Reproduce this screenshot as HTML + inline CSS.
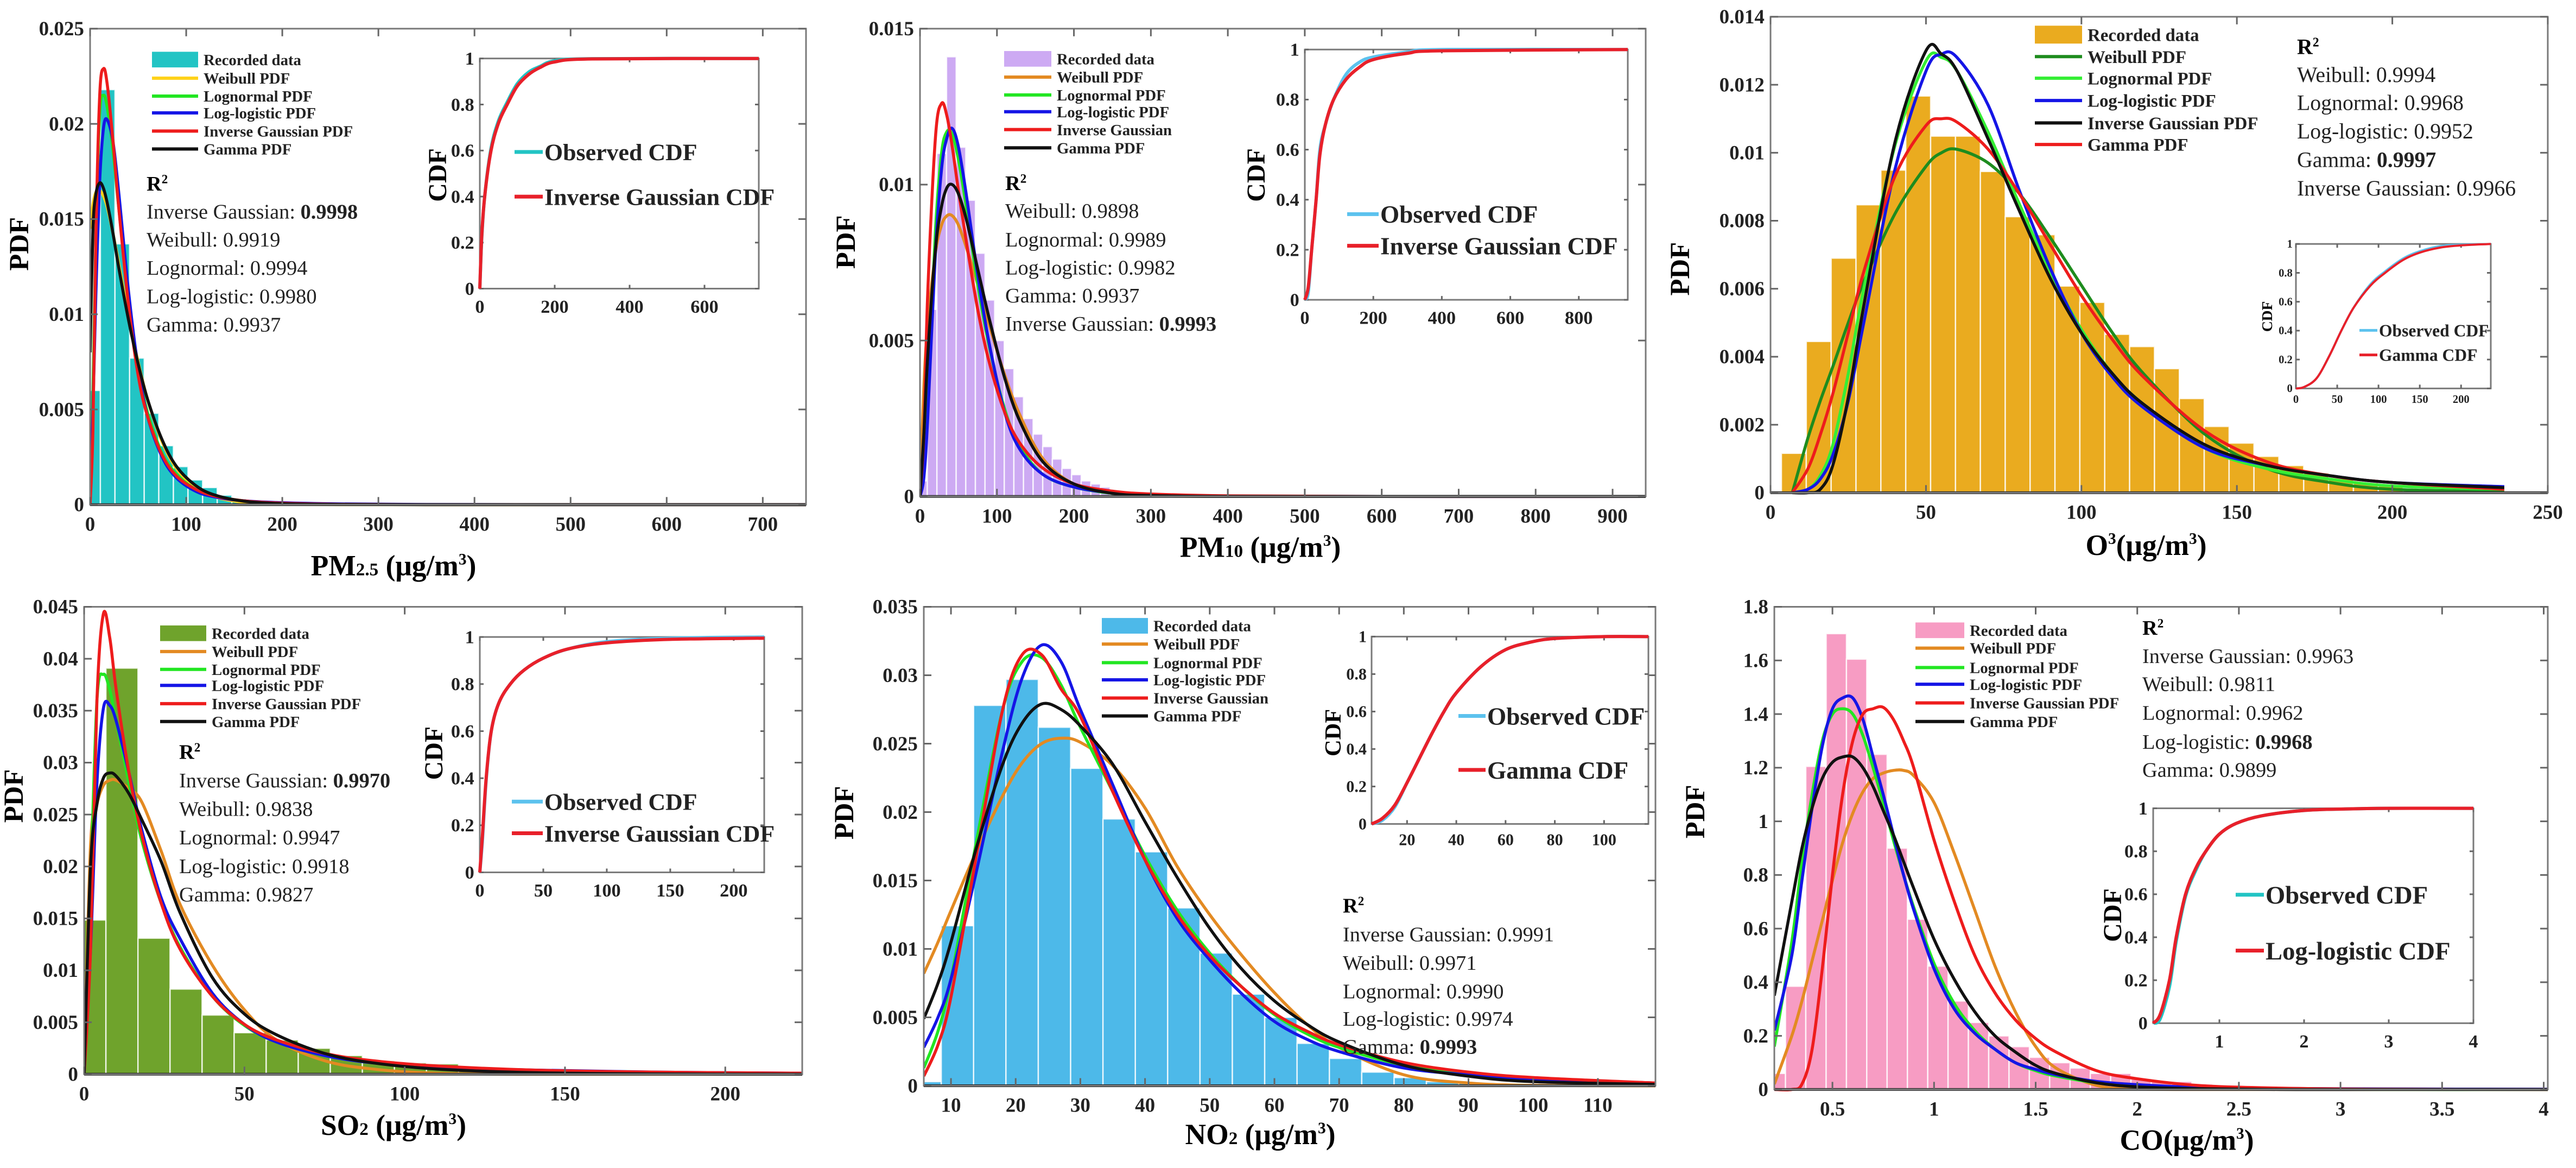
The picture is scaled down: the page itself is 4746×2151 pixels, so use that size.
<!DOCTYPE html>
<html><head><meta charset="utf-8">
<style>
html,body{margin:0;padding:0;background:#fff;overflow:hidden;}
svg{display:block;}
</style></head>
<body>
<svg id="fig" xmlns="http://www.w3.org/2000/svg" width="4746" height="2151" viewBox="0 0 4746 2151" font-family="'Liberation Serif', 'DejaVu Serif', serif"></svg>
<script>
// ---------------- DATA ----------------
// PM2.5
const pm25Bars = [0.006,0.0218,0.0137,0.0077,0.0048,0.0031,0.0020,0.0013,0.0009,0.0005,0.0003,0.0002,0.0001,0.00005];
const pm25X = [0,3,6,10,14,18,24,30,40,50,60,75,90,110,130,160,200,260,350,500,745];
const pm25Weibull = [0.0145,0.0158,0.0164,0.0165,0.0162,0.0156,0.0142,0.0126,0.0099,0.0075,0.0055,0.0033,0.0019,0.0009,0.0004,0.00012,0.00003,0,0,0,0];
const pm25Lognormal = [0,0.006,0.014,0.0205,0.0215,0.0208,0.0185,0.0155,0.0108,0.0072,0.0048,0.0027,0.0016,0.0008,0.00045,0.0002,0.00008,0.00002,0,0,0];
const pm25LogLogistic = [0,0.005,0.011,0.017,0.0198,0.0202,0.019,0.0163,0.0112,0.0072,0.0046,0.0025,0.0014,0.0007,0.0004,0.0002,0.0001,0.00004,0.00001,0,0];
const pm25InvGauss = [0,0.004,0.014,0.0215,0.0229,0.022,0.019,0.0155,0.0105,0.0068,0.0046,0.0026,0.0015,0.0008,0.00045,0.0002,0.00008,0.00002,0,0,0];
const pm25Gamma = [0.008,0.0145,0.0163,0.0169,0.0166,0.0158,0.0142,0.0124,0.0097,0.0074,0.0055,0.0034,0.002,0.001,0.0005,0.00018,0.00005,0.00001,0,0,0];
const pm25CdfX = [0,5,13,30,50,73,100,130,160,200,300,745];
const pm25CdfObs = [0,0.21,0.4,0.61,0.73,0.81,0.89,0.94,0.965,0.99,0.999,1];
const pm25CdfFit = [0,0.22,0.4,0.6,0.72,0.8,0.88,0.93,0.96,0.985,0.998,1];
// PM10
const pm10Bars = [0.0005,0.006,0.011,0.0141,0.0112,0.0095,0.0078,0.0063,0.005,0.0041,0.0032,0.0025,0.002,0.0016,0.0012,0.0009,0.0007,0.0005,0.0004,0.0003,0.0002,0.0001,0.0001];
const pm10X = [0,5,10,20,28,35,42,50,60,75,90,110,130,160,200,250,300,400,600,943];
const pm10Weibull = [0,0.0035,0.0055,0.0078,0.0087,0.009,0.009,0.0087,0.008,0.0068,0.0055,0.0039,0.0026,0.0012,0.0004,0.0001,0.00002,0,0,0];
const pm10Lognormal = [0,0.0007,0.003,0.0085,0.011,0.0117,0.0116,0.0108,0.0093,0.0068,0.0048,0.0028,0.0016,0.0007,0.0003,0.0001,0.00004,0,0,0];
const pm10LogLogistic = [0,0.0006,0.0025,0.0078,0.0105,0.0115,0.0118,0.0112,0.0097,0.0071,0.0049,0.0027,0.0015,0.0007,0.0003,0.00012,0.00005,0.00001,0,0];
const pm10InvGauss = [0,0.002,0.0065,0.0115,0.0126,0.0122,0.0112,0.0098,0.0082,0.006,0.0043,0.0027,0.0017,0.0009,0.0004,0.00017,0.00008,0.00002,0,0];
const pm10Gamma = [0,0.002,0.0045,0.0079,0.0093,0.0099,0.01,0.0097,0.0089,0.0073,0.0057,0.0038,0.0024,0.0011,0.0004,0.0001,0.00003,0,0,0];
const pm10CdfX = [0,10,20,33,44,60,84,120,160,200,300,400,943];
const pm10CdfObs = [0,0.03,0.2,0.4,0.6,0.7,0.8,0.9,0.95,0.97,0.99,1,1];
const pm10CdfFit = [0,0.05,0.2,0.4,0.58,0.7,0.8,0.88,0.93,0.96,0.985,0.995,1];
// O3
const o3Bars = [0.00116,0.00445,0.0069,0.00847,0.00949,0.01167,0.01049,0.01049,0.00945,0.00812,0.00759,0.00608,0.0056,0.00466,0.0043,0.00365,0.00277,0.00195,0.00146,0.00107,0.0008,0.00058,0.00042,0.0003,0.0002,0.00012,0.00008,0.00005,0.00003];
const o3X = [7,12,16,20,25,30,40,50,55,60,70,80,90,100,110,120,140,160,180,200,236];
const o3Weibull = [0,0.0016,0.0027,0.0037,0.005,0.0062,0.0082,0.0096,0.01,0.0101,0.0097,0.0088,0.0075,0.0061,0.0047,0.0035,0.0017,0.0007,0.0003,0.0001,0.00003];
const o3Lognormal = [0,0.0001,0.0005,0.0014,0.0035,0.006,0.0102,0.0127,0.0128,0.0124,0.0106,0.0085,0.0065,0.0048,0.0035,0.0026,0.0013,0.0007,0.0004,0.0002,0.0001];
const o3LogLogistic = [0,0.0001,0.0004,0.0011,0.0027,0.005,0.0095,0.0124,0.0129,0.0128,0.0114,0.0089,0.0066,0.0047,0.0034,0.0025,0.0013,0.0008,0.0005,0.0003,0.00018];
const o3InvGauss = [0,0,0.0001,0.0008,0.0028,0.0055,0.0103,0.0130,0.0129,0.0124,0.0104,0.0083,0.0063,0.0047,0.0035,0.0026,0.0014,0.0008,0.0005,0.0003,0.00015];
const o3Gamma = [0,0.0007,0.0017,0.0029,0.0047,0.0065,0.0093,0.0108,0.011,0.0109,0.0101,0.0088,0.0073,0.0058,0.0045,0.0034,0.0018,0.0009,0.0005,0.0003,0.0001];
const o3CdfX = [0,10,25,40,55,70,90,108,130,150,175,200,236];
const o3CdfObs = [0,0.01,0.07,0.22,0.4,0.56,0.72,0.81,0.9,0.95,0.985,0.995,1];
const o3CdfFit = [0,0.01,0.07,0.22,0.4,0.56,0.71,0.8,0.89,0.94,0.975,0.99,1];
// SO2
const so2Bars = [0.01485,0.0391,0.0131,0.0082,0.0057,0.004,0.0033,0.0025,0.0018,0.0013,0.0011,0.001,0.0003,0.0002,0.0001];
const so2X = [0,2,4,6,8,10,14,18,24,30,40,50,60,75,90,110,140,180,224];
const so2Weibull = [0,0.022,0.026,0.0278,0.0283,0.0283,0.0275,0.0262,0.0215,0.0163,0.0105,0.0062,0.0033,0.0013,0.0005,0.0001,0,0,0];
const so2Lognormal = [0,0.018,0.036,0.0385,0.037,0.034,0.028,0.0225,0.0165,0.0122,0.0075,0.0047,0.0031,0.0018,0.0011,0.0006,0.0003,0.00015,0.00008];
const so2LogLogistic = [0,0.012,0.028,0.0352,0.0355,0.034,0.029,0.0235,0.017,0.013,0.0078,0.0048,0.0031,0.0018,0.0011,0.0007,0.0004,0.0002,0.0001];
const so2InvGauss = [0,0.012,0.036,0.0443,0.042,0.037,0.029,0.023,0.0165,0.012,0.0075,0.0048,0.0033,0.002,0.0013,0.0008,0.0004,0.0002,0.0001];
const so2Gamma = [0,0.02,0.026,0.0285,0.029,0.0287,0.027,0.0245,0.0205,0.0155,0.0093,0.0058,0.0038,0.002,0.0011,0.0005,0.00015,0.00003,0];
const so2CdfX = [0,2,5,9,15,24,35,50,70,100,150,224];
const so2CdfObs = [0,0.13,0.39,0.6,0.72,0.8,0.86,0.91,0.95,0.98,0.995,1];
const so2CdfFit = [0,0.15,0.4,0.6,0.72,0.8,0.86,0.91,0.95,0.975,0.99,0.995];
// NO2
const no2Bars = [0.0003,0.0117,0.0278,0.0297,0.0262,0.0232,0.0195,0.0171,0.013,0.0097,0.0067,0.005,0.0031,0.002,0.001,0.0006,0.0003,0.0002,0.0001];
const no2X = [5.8,8,10,14,18,21,24,27,30,35,40,45,50,55,60,65,70,80,90,100,119];
const no2Weibull = [0.0082,0.0105,0.0128,0.0172,0.0212,0.0236,0.025,0.0254,0.0251,0.0234,0.0203,0.016,0.0125,0.0095,0.0068,0.0045,0.0028,0.0008,0.0002,0.00003,0];
const no2Lognormal = [0.0013,0.004,0.0078,0.018,0.0275,0.031,0.0313,0.0293,0.0262,0.0215,0.0168,0.0128,0.0097,0.0072,0.0052,0.0038,0.0028,0.0015,0.0008,0.0005,0.0002];
const no2LogLogistic = [0.0028,0.005,0.0078,0.0158,0.0245,0.0298,0.0322,0.031,0.0275,0.022,0.0165,0.0122,0.0092,0.0067,0.0047,0.0034,0.0025,0.0013,0.0008,0.0005,0.0002];
const no2InvGauss = [0.0007,0.003,0.0065,0.017,0.0275,0.0315,0.0315,0.029,0.027,0.0215,0.0165,0.0125,0.0095,0.0072,0.0053,0.004,0.003,0.0017,0.001,0.0006,0.0002];
const no2Gamma = [0.0049,0.0075,0.0105,0.0175,0.0235,0.0265,0.0279,0.0275,0.0263,0.0235,0.0193,0.0152,0.0115,0.0085,0.0062,0.0045,0.0032,0.0015,0.0007,0.0003,0.0001];
const no2CdfX = [5.6,10,15,20,25,30,35,40,50,60,70,80,100,118];
const no2CdfObs = [0,0.02,0.09,0.22,0.35,0.48,0.6,0.7,0.84,0.93,0.97,0.99,1,1];
const no2CdfFit = [0,0.03,0.1,0.22,0.35,0.48,0.6,0.7,0.84,0.93,0.97,0.99,1,1];
// CO
const coBars = [0.06,0.385,1.205,1.70,1.605,1.25,0.9,0.635,0.46,0.33,0.25,0.2,0.16,0.12,0.1,0.08,0.06,0.06,0.04,0.03,0.03,0.02,0.01,0.01];
const coX = [0.214,0.3,0.35,0.4,0.45,0.5,0.55,0.6,0.65,0.7,0.75,0.8,0.85,0.9,1.0,1.1,1.2,1.3,1.4,1.5,1.6,1.8,2.0,2.3,2.7,3.2,4.02];
const coWeibull = [0.02,0.2,0.33,0.48,0.63,0.78,0.92,1.03,1.11,1.16,1.18,1.19,1.19,1.17,1.07,0.88,0.67,0.46,0.29,0.16,0.08,0.015,0.002,0,0,0,0];
const coLognormal = [0.16,0.55,0.85,1.1,1.3,1.4,1.42,1.4,1.32,1.2,1.07,0.93,0.8,0.68,0.47,0.32,0.22,0.15,0.1,0.07,0.05,0.025,0.012,0.004,0.001,0,0];
const coLogLogistic = [0.22,0.5,0.78,1.05,1.28,1.42,1.46,1.46,1.38,1.24,1.1,0.95,0.8,0.67,0.45,0.3,0.21,0.15,0.1,0.075,0.055,0.03,0.018,0.008,0.004,0.002,0.001];
const coInvGauss = [0,0,0.02,0.15,0.45,0.8,1.1,1.3,1.4,1.42,1.425,1.38,1.3,1.2,0.93,0.7,0.5,0.36,0.26,0.19,0.14,0.07,0.04,0.015,0.005,0.001,0];
const coGamma = [0.35,0.7,0.9,1.05,1.16,1.22,1.24,1.24,1.2,1.13,1.04,0.95,0.85,0.75,0.56,0.41,0.29,0.2,0.14,0.09,0.06,0.025,0.01,0.003,0,0,0];
const coCdfX = [0.218,0.3,0.41,0.49,0.6,0.72,0.84,1.0,1.2,1.5,2,2.5,3,4];
const coCdfObs = [0,0.02,0.17,0.38,0.59,0.71,0.8,0.88,0.93,0.965,0.99,0.997,1,1];
const coCdfFit = [0,0.04,0.2,0.4,0.6,0.72,0.8,0.88,0.93,0.965,0.99,0.997,1,1];

// tick values
const pm25YTicks = [0,0.005,0.01,0.015,0.02,0.025];
const pm25XTicks = [0,100,200,300,400,500,600,700];
const pm10YTicks = [0,0.005,0.01,0.015];
const pm10XTicks = [0,100,200,300,400,500,600,700,800,900];
const o3YTicks = [0,0.002,0.004,0.006,0.008,0.01,0.012,0.014];
const o3XTicks = [0,50,100,150,200,250];
const so2YTicks = [0,0.005,0.01,0.015,0.02,0.025,0.03,0.035,0.04,0.045];
const so2XTicks = [0,50,100,150,200];
const no2YTicks = [0,0.005,0.01,0.015,0.02,0.025,0.03,0.035];
const no2XTicks = [10,20,30,40,50,60,70,80,90,100,110];
const coYTicks = [0,0.2,0.4,0.6,0.8,1,1.2,1.4,1.6,1.8];
const coXTicks = [0.5,1,1.5,2,2.5,3,3.5,4];
const cdfYTicks = [0,0.2,0.4,0.6,0.8,1];
const pm25CdfXTicks = [0,200,400,600];
const pm10CdfXTicks = [0,200,400,600,800];
const o3CdfXTicks = [0,50,100,150,200];
const so2CdfXTicks = [0,50,100,150,200];
const no2CdfXTicks = [20,40,60,80,100];
const coCdfXTicks = [1,2,3,4];

// ---------------- DRAWING ----------------
const NS = 'http://www.w3.org/2000/svg';
const svg = document.getElementById('fig');
const K = 1.458; // vertical measurement correction
function mk(tag, attrs, parent) {
  const el = document.createElementNS(NS, tag);
  for (const k in attrs) el.setAttribute(k, attrs[k]);
  (parent || svg).appendChild(el);
  return el;
}
function smooth(pts) {
  let d = 'M' + pts[0][0].toFixed(1) + ',' + pts[0][1].toFixed(1);
  for (let i = 0; i < pts.length - 1; i++) {
    const p0 = pts[i - 1] || pts[i], p1 = pts[i], p2 = pts[i + 1], p3 = pts[i + 2] || pts[i + 1];
    const c1 = [p1[0] + (p2[0] - p0[0]) / 6, p1[1] + (p2[1] - p0[1]) / 6];
    const c2 = [p2[0] - (p3[0] - p1[0]) / 6, p2[1] - (p3[1] - p1[1]) / 6];
    d += ' C' + c1[0].toFixed(1) + ',' + c1[1].toFixed(1) + ' ' + c2[0].toFixed(1) + ',' + c2[1].toFixed(1) + ' ' + p2[0].toFixed(1) + ',' + p2[1].toFixed(1);
  }
  return d;
}
let clipId = 0;
function makeClip(x, y, w, h) {
  const id = 'c' + (clipId++);
  const cp = mk('clipPath', { id: id });
  mk('rect', { x: x, y: y, width: w, height: h }, cp);
  return id;
}
function fmt(v) { return String(v); }

function drawAxes(g, box, xs, ys, xTicks, yTicks, fs, tickLen, pre) {
  const frame = mk('rect', { x: box.L, y: box.T, width: box.R - box.L, height: box.B - box.T, fill: 'none', stroke: '#7a7a7a', 'stroke-width': 3 }, g);
  
  
  xTicks.forEach(v => {
    const x = xs(v);
    const t1 = mk('line', { x1: x, x2: x, y1: box.B, y2: box.B - tickLen, stroke: '#666', 'stroke-width': 3 }, g);
    
    
    const t2 = mk('line', { x1: x, x2: x, y1: box.T, y2: box.T + tickLen, stroke: '#666', 'stroke-width': 3 }, g);
    
    
    const lb = mk('text', { x: x, y: box.B + fs * 1.3, 'font-size': fs, 'font-weight': 'bold', 'text-anchor': 'middle', fill: '#222' }, g);
    lb.textContent = fmt(v);
    
    
  });
  yTicks.forEach(v => {
    const y = ys(v);
    const t1 = mk('line', { x1: box.L, x2: box.L + tickLen, y1: y, y2: y, stroke: '#666', 'stroke-width': 3 }, g);
    
    
    const t2 = mk('line', { x1: box.R, x2: box.R - tickLen, y1: y, y2: y, stroke: '#666', 'stroke-width': 3 }, g);
    
    
    const lb = mk('text', { x: box.L - fs * 0.3, y: y + fs * 0.33, 'font-size': fs, 'font-weight': 'bold', 'text-anchor': 'end', fill: '#222' }, g);
    lb.textContent = fmt(v);
    
    
  });
}

function conv(p) {
  const base = p.row ? 1075 : 0;
  const f = v => base + (v - base) / K;
  p.T = f(p.T); p.B = f(p.B);
  p.ylab = [p.ylab[0], f(p.ylab[1])];
  p.xlab = [p.xlab[0], f(p.xlab[1])];
  p.legY = p.legY.map(f); p.r2Y = p.r2Y.map(f);
  const i = p.inset;
  i.T = f(i.T); i.B = f(i.B);
  i.lab = [i.lab[0], f(i.lab[1])];
  i.legY = i.legY.map(f);
  ['tickFs', 'ylabFs', 'xlabFs', 'legFs', 'r2Fs'].forEach(k => { p[k] = p[k] / K; });
  ['tickFs', 'labFs', 'legFs'].forEach(k => { i[k] = i[k] / K; });
  return p;
}

function drawPanel(p) {
  conv(p);
  const g = mk('g', {});
  
  
  const xs = v => p.L + (v - p.x0) / (p.x1 - p.x0) * (p.R - p.L);
  const ys = v => p.B - (v - p.y0) / (p.y1 - p.y0) * (p.B - p.T);
  const cid = makeClip(p.L, p.T, p.R - p.L, p.B - p.T + 4);
  const bg = mk('g', { 'clip-path': 'url(#' + cid + ')' }, g);
  
  
  p.bars.forEach((h, i) => {
    let a = p.binStart + i * p.binWidth, b = a + p.binWidth;
    a = Math.max(a, p.x0); b = Math.min(b, p.x1);
    if (b <= a) return;
    const r = mk('rect', { x: xs(a), y: ys(h), width: xs(b) - xs(a), height: ys(0) - ys(h), fill: p.barColor, stroke: '#fff', 'stroke-opacity': 0.8, 'stroke-width': 2.5 }, bg);
    
    
  });
  const cg = mk('g', { 'clip-path': 'url(#' + cid + ')' }, g);
  p.curves.forEach(c => {
    const pts = p.cx.map((x, i) => [xs(x), ys(c.data[i])]);
    const path = mk('path', { d: smooth(pts), fill: 'none', stroke: c.color, 'stroke-width': 5.5, 'stroke-linejoin': 'round' }, cg);
    
    
  });
  const base = mk('line', { x1: p.L, x2: p.R, y1: p.B, y2: p.B, stroke: '#222', 'stroke-width': 5 }, g);
  
  
  drawAxes(g, p, xs, ys, p.xTicks, p.yTicks, p.tickFs, 14, p.id);
  const yl = mk('text', { x: 0, y: 0, 'font-size': p.ylabFs, 'font-weight': 'bold', 'text-anchor': 'middle', transform: 'translate(' + p.ylab[0] + ',' + p.ylab[1] + ') rotate(-90)' }, g);
  yl.textContent = 'PDF';
  
  
  const xl = mk('text', { x: p.xlab[0], y: p.xlab[1], 'font-size': p.xlabFs, 'font-weight': 'bold', 'text-anchor': 'middle' }, g);
  
  
  p.xlabParts.forEach(part => {
    const ts = mk('tspan', {}, xl);
    ts.textContent = part[0];
    if (part[1] === 'sub') ts.setAttribute('font-size', p.xlabFs * 0.62);
    if (part[1] === 'sup') { ts.setAttribute('font-size', p.xlabFs * 0.55); ts.setAttribute('dy', -p.xlabFs * 0.38); }
    if (part[1] === 'after') ts.setAttribute('dy', p.xlabFs * 0.38);
  });
  const lg = mk('g', {}, g);
  
  
  p.legend.forEach((e, i) => {
    const y = p.legY[i];
    if (i === 0) {
      const sw = mk('rect', { x: p.legX, y: y - p.legFs * 0.5, width: p.legSw, height: p.legFs * 1.0, fill: p.barColor }, lg);
      
      
    } else {
      const sw = mk('line', { x1: p.legX, x2: p.legX + p.legSw, y1: y, y2: y, stroke: e[1], 'stroke-width': 6 }, lg);
      
      
    }
    const t = mk('text', { x: p.legX + p.legSw + 10, y: y + p.legFs * 0.35, 'font-size': p.legFs, 'font-weight': 'bold', fill: '#222' }, lg);
    t.textContent = e[0];
    
    
  });
  const rg = mk('g', {}, g);
  
  
  const rt = mk('text', { x: p.r2X, y: p.r2Y[0], 'font-size': p.r2Fs, 'font-weight': 'bold' }, rg);
  
  
  const rr = mk('tspan', {}, rt); rr.textContent = 'R';
  const r2 = mk('tspan', { 'font-size': p.r2Fs * 0.6, dy: -p.r2Fs * 0.35 }, rt); r2.textContent = '2';
  p.r2Lines.forEach((ln, i) => {
    const t = mk('text', { x: p.r2X, y: p.r2Y[i + 1], 'font-size': p.r2Fs, fill: '#222' }, rg);
    
    
    const a = mk('tspan', {}, t); a.textContent = ln[0] + ': ';
    const b = mk('tspan', ln[2] ? { 'font-weight': 'bold' } : {}, t); b.textContent = ln[1];
  });
  const ins = p.inset;
  const ig = mk('g', {}, g);
  
  
  const bgR = mk('rect', { x: ins.L, y: ins.T, width: ins.R - ins.L, height: ins.B - ins.T, fill: '#fff' }, ig);
  
  
  const ixs = v => ins.L + (v - ins.x0) / (ins.x1 - ins.x0) * (ins.R - ins.L);
  const iys = v => ins.B - v * (ins.B - ins.T);
  const icid = makeClip(ins.L - 4, ins.T - 6, ins.R - ins.L + 14, ins.B - ins.T + 10);
  drawAxes(ig, ins, ixs, iys, ins.xTicks, cdfYTicks, ins.tickFs, 7, p.id + '-inset');
  const icg = mk('g', { 'clip-path': 'url(#' + icid + ')' }, ig);
  [[ins.obs, ins.obsColor, 'observed-cdf'], [ins.fit, '#e8202a', 'fitted-cdf']].forEach(s => {
    const pts = ins.x.map((x, i) => [ixs(x), iys(s[0][i])]);
    const path = mk('path', { d: smooth(pts), fill: 'none', stroke: s[1], 'stroke-width': ins.lw, 'stroke-linejoin': 'round' }, icg);
    
    
  });
  const cl = mk('text', { x: 0, y: 0, 'font-size': ins.labFs, 'font-weight': 'bold', 'text-anchor': 'middle', transform: 'translate(' + ins.lab[0] + ',' + ins.lab[1] + ') rotate(-90)' }, ig);
  cl.textContent = 'CDF';
  
  
  [[ins.obsColor, 'Observed CDF', ins.legY[0]], ['#e8202a', ins.fitLabel, ins.legY[1]]].forEach((e, i) => {
    const sw = mk('line', { x1: ins.legX, x2: ins.legX + ins.legSw, y1: e[2], y2: e[2], stroke: e[0], 'stroke-width': ins.lw + 1 }, ig);
    
    
    const t = mk('text', { x: ins.legX + ins.legSw + 3, y: e[2] + ins.legFs * 0.35, 'font-size': ins.legFs, 'font-weight': 'bold', fill: '#222' }, ig);
    t.textContent = e[1];
    
    
  });
}

const C = { blue: '#1515e6', red: '#ee1c1c', green: '#22e622', black: '#111', orange: '#e38a22', yellow: '#ffd21a', dgreen: '#1e8c1e' };
function std(prefix, w, ln, ll, ig, ga, wc) {
  return [
    { name: prefix + '-weibull', color: wc, data: w },
    { name: prefix + '-lognormal', color: C.green, data: ln },
    { name: prefix + '-loglogistic', color: C.blue, data: ll },
    { name: prefix + '-invgauss', color: C.red, data: ig },
    { name: prefix + '-gamma', color: C.black, data: ga }
  ];
}
function stdLegend(wc, igLabel) {
  return [['Recorded data', null], ['Weibull PDF', wc], ['Lognormal PDF', C.green], ['Log-logistic PDF', C.blue], [igLabel, C.red], ['Gamma PDF', C.black]];
}

const panels = [
  { id: 'pm25', row: 0, L: 166, R: 1485, T: 77, B: 1355, x0: 0, x1: 745, y0: 0, y1: 0.025,
    bars: pm25Bars, binStart: -4.5, binWidth: 15.2, barColor: '#22c4c4',
    cx: pm25X, curves: std('pm25', pm25Weibull, pm25Lognormal, pm25LogLogistic, pm25InvGauss, pm25Gamma, C.yellow),
    xTicks: pm25XTicks, yTicks: pm25YTicks, tickFs: 54,
    ylab: [52, 655], ylabFs: 74, xlab: [725, 1545], xlabFs: 78,
    xlabParts: [['PM', ''], ['2.5', 'sub'], [' (μg/m', ''], ['3', 'sup'], [')', 'after']],
    legend: stdLegend(C.yellow, 'Inverse Gaussian PDF'), legX: 280, legSw: 85, legFs: 42, legY: [160, 210, 258, 303, 352, 400],
    r2X: 270, r2Fs: 56, r2Y: [512, 587, 662, 738, 814, 890],
    r2Lines: [['Inverse Gaussian', '0.9998', 1], ['Weibull', '0.9919'], ['Lognormal', '0.9994'], ['Log-logistic', '0.9980'], ['Gamma', '0.9937']],
    inset: { L: 884, R: 1398, T: 157, B: 775, x0: 0, x1: 745, xTicks: pm25CdfXTicks, tickFs: 50, x: pm25CdfX, obs: pm25CdfObs, fit: pm25CdfFit,
      obsColor: '#22c4c4', fitLabel: 'Inverse Gaussian CDF', lw: 6, lab: [822, 470], labFs: 70, legX: 948, legSw: 52, legFs: 64, legY: [408, 528] } },
  { id: 'pm10', row: 0, L: 1695, R: 3032, T: 77, B: 1333, x0: 0, x1: 943, y0: 0, y1: 0.015,
    bars: pm10Bars, binStart: -3, binWidth: 12.5, barColor: '#cdaaf3',
    cx: pm10X, curves: std('pm10', pm10Weibull, pm10Lognormal, pm10LogLogistic, pm10InvGauss, pm10Gamma, C.orange),
    xTicks: pm10XTicks, yTicks: pm10YTicks, tickFs: 54,
    ylab: [1575, 650], ylabFs: 74, xlab: [2322, 1495], xlabFs: 78,
    xlabParts: [['PM', ''], ['10', 'sub'], [' (μg/m', ''], ['3', 'sup'], [')', 'after']],
    legend: stdLegend(C.orange, 'Inverse Gaussian'), legX: 1850, legSw: 87, legFs: 42, legY: [158, 207, 255, 300, 348, 397],
    r2X: 1852, r2Fs: 56, r2Y: [510, 585, 662, 737, 812, 888],
    r2Lines: [['Weibull', '0.9898'], ['Lognormal', '0.9989'], ['Log-logistic', '0.9982'], ['Gamma', '0.9937'], ['Inverse Gaussian', '0.9993', 1]],
    inset: { L: 2404, R: 2999, T: 133, B: 805, x0: 0, x1: 943, xTicks: pm10CdfXTicks, tickFs: 50, x: pm10CdfX, obs: pm10CdfObs, fit: pm10CdfFit,
      obsColor: '#5cc2ee', fitLabel: 'Inverse Gaussian CDF', lw: 6, lab: [2330, 470], labFs: 70, legX: 2482, legSw: 58, legFs: 66, legY: [575, 660] } },
  { id: 'o3', row: 0, L: 3262, R: 4694, T: 45, B: 1323, x0: 0, x1: 250, y0: 0, y1: 0.014,
    bars: o3Bars, binStart: 3.5, binWidth: 8, barColor: '#eaab1f',
    cx: o3X, curves: [
      { name: 'o3-weibull', color: C.dgreen, data: o3Weibull },
      { name: 'o3-lognormal', color: '#35ee35', data: o3Lognormal },
      { name: 'o3-loglogistic', color: C.blue, data: o3LogLogistic },
      { name: 'o3-gamma', color: C.red, data: o3Gamma },
      { name: 'o3-invgauss', color: C.black, data: o3InvGauss }],
    xTicks: o3XTicks, yTicks: o3YTicks, tickFs: 54,
    ylab: [3112, 722], ylabFs: 74, xlab: [3954, 1490], xlabFs: 78,
    xlabParts: [['O', ''], ['3', 'sup'], ['(μg/m', 'after'], ['3', 'sup'], [')', 'after']],
    legend: [['Recorded data', null], ['Weibull PDF', C.dgreen], ['Lognormal PDF', '#35ee35'], ['Log-logistic PDF', C.blue], ['Inverse Gaussian PDF', C.black], ['Gamma PDF', C.red]],
    legX: 3749, legSw: 87, legFs: 48, legY: [93, 152, 210, 270, 330, 388],
    r2X: 4232, r2Fs: 58, r2Y: [145, 220, 295, 372, 448, 525],
    r2Lines: [['Weibull', '0.9994'], ['Lognormal', '0.9968'], ['Log-logistic', '0.9952'], ['Gamma', '0.9997', 1], ['Inverse Gaussian', '0.9966']],
    inset: { L: 4230, R: 4589, T: 655, B: 1043, x0: 0, x1: 236, xTicks: o3CdfXTicks, tickFs: 30, x: o3CdfX, obs: o3CdfObs, fit: o3CdfFit,
      obsColor: '#5cc2ee', fitLabel: 'Gamma CDF', lw: 4, lab: [4186, 850], labFs: 40, legX: 4347, legSw: 33, legFs: 46, legY: [887, 953] } },
  { id: 'so2', row: 1, L: 155, R: 1478, T: 1137, B: 2392, x0: 0, x1: 224, y0: 0, y1: 0.045,
    bars: so2Bars, binStart: -3.2, binWidth: 10, barColor: '#6fa32c',
    cx: so2X, curves: std('so2', so2Weibull, so2Lognormal, so2LogLogistic, so2InvGauss, so2Gamma, C.orange),
    xTicks: so2XTicks, yTicks: so2YTicks, tickFs: 54,
    ylab: [42, 1645], ylabFs: 74, xlab: [725, 2555], xlabFs: 78,
    xlabParts: [['SO', ''], ['2', 'sub'], [' (μg/m', ''], ['3', 'sup'], [')', 'after']],
    legend: stdLegend(C.orange, 'Inverse Gaussian PDF'), legX: 295, legSw: 85, legFs: 42, legY: [1208, 1257, 1305, 1348, 1397, 1445],
    r2X: 330, r2Fs: 56, r2Y: [1545, 1622, 1698, 1775, 1852, 1928],
    r2Lines: [['Inverse Gaussian', '0.9970', 1], ['Weibull', '0.9838'], ['Lognormal', '0.9947'], ['Log-logistic', '0.9918'], ['Gamma', '0.9827']],
    inset: { L: 884, R: 1408, T: 1218, B: 1850, x0: 0, x1: 224, xTicks: so2CdfXTicks, tickFs: 50, x: so2CdfX, obs: so2CdfObs, fit: so2CdfFit,
      obsColor: '#5cc2ee', fitLabel: 'Inverse Gaussian CDF', lw: 6, lab: [815, 1530], labFs: 70, legX: 943, legSw: 57, legFs: 64, legY: [1660, 1745] } },
  { id: 'no2', row: 1, L: 1702, R: 3050, T: 1137, B: 2423, x0: 5.8, x1: 118.9, y0: 0, y1: 0.035,
    bars: no2Bars, binStart: 3.5, binWidth: 5, barColor: '#4db9e9',
    cx: no2X, curves: std('no2', no2Weibull, no2Lognormal, no2LogLogistic, no2InvGauss, no2Gamma, C.orange),
    xTicks: no2XTicks, yTicks: no2YTicks, tickFs: 54,
    ylab: [1572, 1690], ylabFs: 74, xlab: [2322, 2580], xlabFs: 78,
    xlabParts: [['NO', ''], ['2', 'sub'], [' (μg/m', ''], ['3', 'sup'], [')', 'after']],
    legend: stdLegend(C.orange, 'Inverse Gaussian'), legX: 2030, legSw: 85, legFs: 42, legY: [1188, 1237, 1287, 1333, 1382, 1430],
    r2X: 2474, r2Fs: 56, r2Y: [1958, 2035, 2112, 2188, 2262, 2337],
    r2Lines: [['Inverse Gaussian', '0.9991'], ['Weibull', '0.9971'], ['Lognormal', '0.9990'], ['Log-logistic', '0.9974'], ['Gamma', '0.9993', 1]],
    inset: { L: 2527, R: 3037, T: 1217, B: 1720, x0: 5.6, x1: 118, xTicks: no2CdfXTicks, tickFs: 44, x: no2CdfX, obs: no2CdfObs, fit: no2CdfFit,
      obsColor: '#5cc2ee', fitLabel: 'Gamma CDF', lw: 6, lab: [2470, 1475], labFs: 62, legX: 2687, legSw: 50, legFs: 66, legY: [1430, 1575] } },
  { id: 'co', row: 1, L: 3269, R: 4694, T: 1137, B: 2433, x0: 0.214, x1: 4.02, y0: 0, y1: 1.8,
    bars: coBars, binStart: 0.169, binWidth: 0.1, barColor: '#f79cc3',
    cx: coX, curves: std('co', coWeibull, coLognormal, coLogLogistic, coInvGauss, coGamma, C.orange),
    xTicks: coXTicks, yTicks: coYTicks, tickFs: 54,
    ylab: [3140, 1687], ylabFs: 74, xlab: [4029, 2595], xlabFs: 78,
    xlabParts: [['CO(μg/m', ''], ['3', 'sup'], [')', 'after']],
    legend: stdLegend(C.orange, 'Inverse Gaussian PDF'), legX: 3529, legSw: 90, legFs: 42, legY: [1200, 1248, 1300, 1345, 1395, 1445],
    r2X: 3947, r2Fs: 56, r2Y: [1212, 1288, 1363, 1440, 1518, 1593],
    r2Lines: [['Inverse Gaussian', '0.9963'], ['Weibull', '0.9811'], ['Lognormal', '0.9962'], ['Log-logistic', '0.9968', 1], ['Gamma', '0.9899']],
    inset: { L: 3967, R: 4557, T: 1678, B: 2255, x0: 0.218, x1: 4, xTicks: coCdfXTicks, tickFs: 50, x: coCdfX, obs: coCdfObs, fit: coCdfFit,
      obsColor: '#22c4c4', fitLabel: 'Log-logistic CDF', lw: 6, lab: [3908, 1965], labFs: 70, legX: 4119, legSw: 52, legFs: 68, legY: [1910, 2060] } }
];
panels.forEach(drawPanel);
</script>
</body></html>
